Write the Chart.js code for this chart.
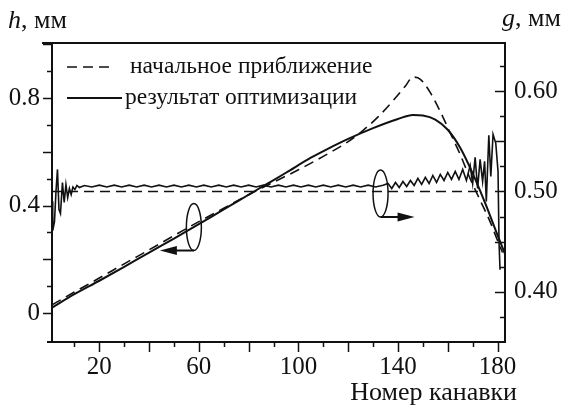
<!DOCTYPE html>
<html><head><meta charset="utf-8">
<script src="https://cdn.jsdelivr.net/npm/chart.js@4.4.1/dist/chart.umd.min.js"></script>
<style>html,body{margin:0;padding:0;background:#fff}#wrap{width:561px;height:407px;position:relative}</style>
</head><body><div id="wrap"><canvas id="c" width="561" height="407"></canvas></div>
<script>
// ---- data ----
const hInitX = [1, 10, 20, 30, 40, 50, 60, 70, 80, 90, 100, 110, 120, 126, 132, 138, 143, 146, 149, 153, 157, 161, 165, 169, 173, 177, 180, 182];
const hInitY = [0.03, 0.078, 0.13, 0.183, 0.235, 0.288, 0.34, 0.39, 0.44, 0.487, 0.533, 0.583, 0.638, 0.68, 0.73, 0.79, 0.845, 0.878, 0.87, 0.82, 0.75, 0.67, 0.59, 0.50, 0.42, 0.34, 0.27, 0.225];
const hResX = [1, 10, 20, 30, 40, 50, 56, 65, 75, 86, 95, 105, 112, 120, 130, 140, 146, 150, 155, 160, 165, 170, 175, 180, 183];
const hResY = [0.02, 0.07, 0.12, 0.172, 0.225, 0.277, 0.309, 0.358, 0.413, 0.473, 0.522, 0.578, 0.612, 0.648, 0.688, 0.722, 0.737, 0.735, 0.72, 0.682, 0.615, 0.52, 0.41, 0.29, 0.22];
const gInitX = [1, 173];
const gInitY = [0.50, 0.50];
const gResX = [1, 1.3, 2.0, 2.6, 3.2, 3.8, 4.4, 5.2, 5.9, 6.6, 7.3, 8, 8.7, 9.4, 10.2, 11, 12, 14,
  17, 20, 23, 26, 29, 32, 35, 38, 41, 44, 47, 50, 53, 56, 59, 62, 65, 68, 71, 74, 77, 80, 83, 86, 89, 92, 95, 98,
  101, 104, 107, 110, 113, 116, 119, 122, 125, 128, 131, 134,
  136, 137.5, 139, 140.5, 142, 143.5, 145, 146.5, 148, 149.5, 151, 152.5, 154, 155.5, 157, 158.5, 160, 161.5, 163, 164.5,
  166, 167.5, 169, 170, 171, 172, 173, 174, 174.8, 175.5, 176.5, 177.3, 178.2, 179.3, 180.2, 180.6, 181];
const gResY = [0.49, 0.461, 0.47, 0.50, 0.522, 0.482, 0.478, 0.509, 0.489, 0.507, 0.494, 0.503, 0.497, 0.5045, 0.502, 0.506, 0.504, 0.506,
  0.5045, 0.5063, 0.5045, 0.5063, 0.5045, 0.5063, 0.5045, 0.5063, 0.5045, 0.5063, 0.5045, 0.5063, 0.5045, 0.5063, 0.5045, 0.5063, 0.5045, 0.5063, 0.5045, 0.5063, 0.5045, 0.5063, 0.5045, 0.5063, 0.5045, 0.5063, 0.5045, 0.5063,
  0.5045, 0.5063, 0.5045, 0.5063, 0.5045, 0.5063, 0.5045, 0.5063, 0.5045, 0.5063, 0.5045, 0.5063,
  0.508, 0.503, 0.509, 0.504, 0.510, 0.505, 0.511, 0.506, 0.513, 0.507, 0.514, 0.508, 0.516, 0.509, 0.517, 0.511, 0.519, 0.512, 0.520, 0.512,
  0.522, 0.511, 0.526, 0.508, 0.534, 0.503, 0.532, 0.510, 0.530, 0.490, 0.556, 0.515, 0.557, 0.548, 0.520, 0.450, 0.422];
const xTickLabels = [20, 60, 100, 140, 180];
const hTickLabels = [0, 0.4, 0.8];
const gTickLabels = [0.40, 0.50, 0.60];
const xMarks = [10, 20, 30, 40, 50, 60, 70, 80, 90, 100, 110, 120, 130, 140, 150, 160, 170, 180];
const hMarks = [0, 0.1, 0.2, 0.3, 0.4, 0.5, 0.6, 0.7, 0.8, 0.9, 1.0];
const gMarks = [0.375, 0.4, 0.425, 0.45, 0.475, 0.5, 0.525, 0.55, 0.575, 0.6, 0.625];
const legendLabels = ['начальное приближение', 'результат оптимизации'];
const hTitle = ['h', ', мм'];
const gTitle = ['g', ', мм'];
const xTitle = 'Номер канавки';

const pts = (xs, ys) => xs.map((v, i) => ({x: v, y: ys[i]}));
const INK = '#111';
const FONT = '"Liberation Serif", serif';
const DASH = [10, 6];

const deco = {
  id: 'deco',
  afterDraw(chart) {
    const {ctx, chartArea: ca, scales: {x, y, y2}} = chart;
    ctx.save();
    ctx.strokeStyle = INK; ctx.fillStyle = INK;
    // frame extras
    ctx.lineWidth = 2;
    ctx.beginPath(); ctx.moveTo(ca.left - 10, ca.top); ctx.lineTo(ca.right + 1, ca.top); ctx.stroke();
    ctx.beginPath(); ctx.moveTo(ca.left - 5, ca.bottom); ctx.lineTo(ca.left, ca.bottom); ctx.stroke();
    // tick marks
    ctx.lineWidth = 1.5;
    xMarks.forEach(v => {
      const p = Math.round(x.getPixelForValue(v)) + 0.5, len = v % 20 === 0 ? 10 : 5;
      ctx.beginPath(); ctx.moveTo(p, ca.bottom); ctx.lineTo(p, ca.bottom + len); ctx.stroke();
    });
    hMarks.forEach(v => {
      const p = Math.round(y.getPixelForValue(v)) + 0.5, len = Math.round(v * 10) % 2 === 0 ? 9 : 5;
      ctx.beginPath(); ctx.moveTo(ca.left - len, p); ctx.lineTo(ca.left, p); ctx.stroke();
    });
    gMarks.forEach(v => {
      const p = Math.round(y2.getPixelForValue(v)) + 0.5, len = Math.round(v * 1000) % 50 === 0 ? 10 : 5;
      ctx.beginPath(); ctx.moveTo(ca.right - len, p); ctx.lineTo(ca.right, p); ctx.stroke();
    });
    // axis titles
    const title = (parts, px, py) => {
      ctx.textBaseline = 'alphabetic'; ctx.textAlign = 'left';
      ctx.font = 'italic 26px ' + FONT; ctx.fillText(parts[0], px, py);
      const w = ctx.measureText(parts[0]).width;
      ctx.font = '26px ' + FONT; ctx.fillText(parts[1], px + w, py);
    };
    title(hTitle, 8, 28);
    title(gTitle, ca.right - 3, 26);
    ctx.font = '26px ' + FONT; ctx.textAlign = 'right';
    ctx.fillText(xTitle, 517, 400);
    // legend
    ctx.lineWidth = 1.6; ctx.setLineDash(DASH);
    ctx.beginPath(); ctx.moveTo(67, 67); ctx.lineTo(112, 67); ctx.stroke();
    ctx.setLineDash([]); ctx.lineWidth = 2;
    ctx.beginPath(); ctx.moveTo(67, 98); ctx.lineTo(122, 98); ctx.stroke();
    ctx.font = '23.5px ' + FONT; ctx.textAlign = 'left';
    ctx.fillText(legendLabels[0], 130, 73);
    ctx.fillText(legendLabels[1], 125, 104);
    // axis markers (ellipse + arrow)
    const marker = (cx, cy, dir) => {
      ctx.lineWidth = 1.5;
      ctx.beginPath(); ctx.ellipse(cx, cy, 7.5, 23.5, 0, 0, Math.PI * 2); ctx.stroke();
      const by = cy + 23.5, x0 = cx, x1 = cx + dir * 34;
      ctx.lineWidth = 2;
      ctx.beginPath(); ctx.moveTo(x0, by); ctx.lineTo(x1 - dir * 14, by); ctx.stroke();
      ctx.beginPath(); ctx.moveTo(x1, by); ctx.lineTo(x1 - dir * 17, by - 4.5); ctx.lineTo(x1 - dir * 17, by + 4.5); ctx.closePath(); ctx.fill();
    };
    marker(x.getPixelForValue(58), y.getPixelForValue(0.32), -1);
    marker(x.getPixelForValue(133), y2.getPixelForValue(0.498), 1);
    ctx.restore();
  }
};

const axisCommon = {
  grid: {display: false, drawTicks: false},
  border: {display: true, width: 2, color: INK},
};

new Chart(document.getElementById('c'), {
  type: 'line',
  data: {
    datasets: [
      {data: pts(hInitX, hInitY), yAxisID: 'y', borderColor: INK, borderWidth: 1.6, borderDash: DASH, cubicInterpolationMode: 'monotone'},
      {data: pts(hResX, hResY), yAxisID: 'y', borderColor: INK, borderWidth: 2, cubicInterpolationMode: 'monotone'},
      {data: pts(gInitX, gInitY), yAxisID: 'y2', borderColor: INK, borderWidth: 1.6, borderDash: DASH},
      {data: pts(gResX, gResY), yAxisID: 'y2', borderColor: INK, borderWidth: 1.6},
    ]
  },
  options: {
    responsive: false, animation: false, devicePixelRatio: 1,
    layout: {padding: {top: 43, left: 0, right: 0, bottom: 0}},
    elements: {point: {radius: 0}, line: {fill: false}},
    plugins: {legend: {display: false}, tooltip: {enabled: false}},
    scales: {
      x: {...axisCommon, type: 'linear', position: 'bottom', min: 1, max: 183,
        afterFit: s => { s.height = 65; },
        afterBuildTicks: s => { s.ticks = xTickLabels.map(v => ({value: v})); },
        ticks: {autoSkip: false, maxRotation: 0, padding: 10, color: INK, font: {family: FONT, size: 25}, callback: v => String(v)}},
      y: {...axisCommon, type: 'linear', position: 'left', min: -0.108, max: 1.005,
        afterFit: s => { s.width = 52; },
        afterBuildTicks: s => { s.ticks = hTickLabels.map(v => ({value: v})); },
        ticks: {autoSkip: false, padding: 12, color: INK, font: {family: FONT, size: 25}, callback: v => v === 0 ? '0' : v.toFixed(1)}},
      y2: {...axisCommon, type: 'linear', position: 'right', min: 0.350, max: 0.648,
        afterFit: s => { s.width = 56; },
        afterBuildTicks: s => { s.ticks = gTickLabels.map(v => ({value: v})); },
        ticks: {autoSkip: false, padding: 9, color: INK, font: {family: FONT, size: 25}, callback: v => v.toFixed(2)}},
    }
  },
  plugins: [deco]
});
</script></body></html>
